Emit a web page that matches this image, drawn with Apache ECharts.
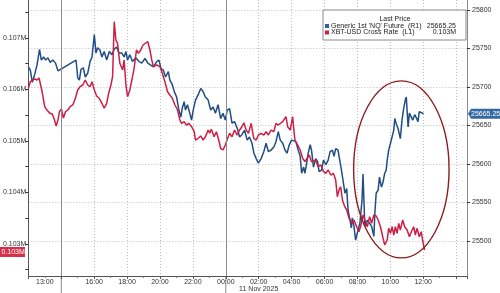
<!DOCTYPE html>
<html><head><meta charset="utf-8">
<script src="https://cdn.jsdelivr.net/npm/echarts@6/dist/echarts.min.js"></script>
<style>html,body{margin:0;padding:0;background:#fff}#c{width:500px;height:293px}</style>
</head><body><div id="c"></div>
<script>
// x values: hours after 12:00, 10 Nov 2025
const timeLabels = [1,4,6,8,10,12,14,16,18,20,22,24];
const leftTickLabels = [103000,104000,105000,106000,107000];
const leftTickMarks = [102500,103000,103500,104000,104500,105000,105500,106000,106500,107000,107500];
const rightTicks = [25500,25550,25600,25650,25700,25750,25800];
const sessionBreaks = [2,12];
const nqName = "Generic 1st 'NQ' Future  (R1)";
const xbtName = "XBT-USD Cross Rate  (L1)";
const nqLast = 25665.25;
const xbtLast = 103000;

const nqData = [[0.00,25726],[0.12,25722],[0.24,25706],[0.38,25716],[0.53,25729],[0.68,25749],[0.79,25735],[0.93,25739],[1.05,25735],[1.19,25738],[1.33,25732],[1.49,25735],[1.65,25731],[1.80,25721],
[2.90,25735],[3.00,25712],[3.10,25709],[3.20,25723],[3.34,25725],[3.46,25713],[3.61,25718],[3.75,25733],[3.87,25739],[4.01,25768],[4.11,25744],[4.21,25751],[4.35,25748],[4.47,25739],[4.61,25746],[4.76,25735],[4.92,25746],[5.08,25742],[5.22,25749],[5.36,25752],[5.52,25744],[5.68,25744],[5.82,25739],[5.93,25746],[6.03,25735],[6.17,25742],[6.33,25733],[6.53,25738],[6.73,25733],[6.89,25731],[7.09,25737],[7.26,25731],[7.39,25729],[7.60,25726],[7.80,25733],[7.94,25735],[8.06,25724],[8.20,25722],[8.34,25713],[8.51,25720],[8.60,25709],[8.75,25703],[8.87,25694],[9.01,25687],[9.15,25670],[9.27,25661],[9.35,25672],[9.47,25681],[9.55,25670],[9.67,25677],[9.81,25666],[9.92,25657],[10.02,25670],[10.16,25683],[10.32,25690],[10.48,25698],[10.62,25694],[10.76,25687],[10.93,25683],[11.08,25670],[11.23,25674],[11.37,25666],[11.53,25677],[11.69,25659],[11.83,25666],[11.97,25657],[12.09,25670],[12.23,25672],[12.38,25653],[12.53,25655],[12.70,25646],[12.84,25635],[12.98,25638],[13.14,25644],[13.30,25631],[13.44,25635],[13.59,25627],[13.71,25614],[13.85,25607],[13.98,25601],[14.15,25607],[14.31,25616],[14.45,25627],[14.59,25616],[14.75,25618],[14.92,25622],[15.05,25629],[15.19,25642],[15.31,25631],[15.46,25627],[15.60,25618],[15.72,25614],[15.86,25625],[16.00,25631],[16.12,25633],[16.26,25629],[16.40,25618],[16.52,25610],[16.61,25588],[16.73,25596],[16.81,25588],[16.93,25603],[17.01,25614],[17.13,25625],[17.21,25618],[17.33,25596],[17.47,25607],[17.58,25603],[17.67,25590],[17.82,25592],[17.94,25605],[18.08,25599],[18.22,25605],[18.34,25616],[18.48,25618],[18.58,25610],[18.68,25620],[18.82,25618],[18.94,25620],[19.03,25592],[19.15,25575],[19.24,25562],[19.35,25568],[19.43,25540],[19.55,25527],[19.63,25517],[19.69,25530],[19.79,25519],[19.89,25501],[19.99,25510],[20.15,25523],[20.28,25553],[20.34,25587],[20.45,25519],[20.60,25527],[20.74,25523],[20.86,25519],[21.00,25506],[21.06,25536],[21.14,25562],[21.26,25566],[21.34,25583],[21.46,25570],[21.54,25575],[21.66,25588],[21.75,25592],[21.81,25605],[21.90,25618],[22.01,25627],[22.11,25629],[22.21,25644],[22.27,25659],[22.35,25653],[22.47,25646],[22.61,25633],[22.71,25657],[22.81,25672],[22.91,25683],[22.97,25687],[23.08,25648],[23.16,25666],[23.28,25664],[23.36,25657],[23.48,25664],[23.56,25661],[23.68,25655],[23.76,25668],[23.88,25670],[24.02,25665.25]];

const xbtData = [[0.00,106023],[0.12,106151],[0.24,106171],[0.38,106204],[0.53,106184],[0.65,106223],[0.79,106029],[0.89,105860],[0.99,105666],[1.13,105602],[1.29,105543],[1.45,105524],[1.59,105408],[1.69,105291],[1.80,105408],[1.89,105569],[2.01,105621],[2.13,105446],[2.26,105569],[2.40,105602],[2.54,105666],[2.70,105699],[2.86,105829],[3.00,105990],[3.14,106054],[3.31,106087],[3.46,106184],[3.61,106087],[3.75,106054],[3.87,106151],[4.01,105990],[4.15,105874],[4.31,105829],[4.47,105732],[4.61,105635],[4.76,105732],[4.88,105926],[5.02,106087],[5.12,106248],[5.22,107317],[5.32,106961],[5.42,106897],[5.56,106509],[5.73,106379],[5.82,106573],[5.93,106087],[6.03,105860],[6.17,105990],[6.29,106184],[6.43,106412],[6.57,106767],[6.69,106703],[6.83,106767],[6.97,106864],[7.09,106897],[7.26,106928],[7.39,106767],[7.50,106573],[7.60,106443],[7.80,106476],[8.00,106443],[8.14,106314],[8.30,106151],[8.46,105957],[8.60,105893],[8.75,105829],[8.91,105699],[9.07,105602],[9.21,105408],[9.31,105343],[9.47,105375],[9.61,105310],[9.75,105343],[9.92,105277],[10.08,105180],[10.16,105019],[10.32,105052],[10.48,105097],[10.62,105019],[10.76,105083],[10.93,105213],[11.02,105149],[11.12,105227],[11.29,105083],[11.43,105180],[11.57,105019],[11.69,104858],[11.83,104825],[11.97,104922],[12.09,105033],[12.23,105149],[12.38,105083],[12.53,105213],[12.70,105116],[12.84,105213],[12.98,105277],[13.10,105355],[13.24,105213],[13.38,105149],[13.54,105343],[13.70,105052],[13.85,105019],[13.98,105116],[14.15,105149],[14.31,105116],[14.45,105180],[14.59,105116],[14.75,105213],[14.92,105180],[15.05,105343],[15.19,105310],[15.31,105277],[15.46,105375],[15.56,105343],[15.66,105472],[15.76,105277],[15.92,105213],[16.06,105472],[16.20,105019],[16.37,104922],[16.52,104825],[16.67,104664],[16.81,104598],[16.93,104631],[17.07,104728],[17.21,104598],[17.33,104567],[17.47,104631],[17.61,104501],[17.78,104534],[17.94,104404],[18.08,104372],[18.22,104437],[18.38,104339],[18.54,104372],[18.68,104242],[18.78,103918],[18.88,104048],[18.98,104112],[19.09,103854],[19.23,103724],[19.35,103660],[19.49,103499],[19.59,103530],[19.69,103401],[19.79,103466],[19.95,103335],[20.09,103238],[20.19,103335],[20.34,103563],[20.45,103466],[20.60,103335],[20.74,103530],[20.86,103401],[21.00,103563],[21.14,103543],[21.26,103466],[21.40,103335],[21.54,103141],[21.66,102980],[21.81,103077],[21.90,103304],[22.01,103207],[22.11,103335],[22.21,103174],[22.31,103335],[22.41,103207],[22.51,103401],[22.61,103271],[22.75,103466],[22.87,103335],[23.02,103271],[23.16,103141],[23.28,103238],[23.42,103335],[23.52,103174],[23.62,103304],[23.76,103141],[23.88,103238],[23.96,103077],[24.08,102883]];

// annotation ellipse bounds in data space: [hour, NQ value]
const ellipseLeft = 19.77, ellipseRight = 25.57, ellipseTop = 25708, ellipseBottom = 25478;

const FONT = '"Liberation Sans", Arial, sans-serif';
const BLUE = '#1f4e85', RED = '#cc1f44';
const fmtHour = h => String((12 + h) % 24).padStart(2, '0') + ':00';
const fmtM = v => (v / 1e6).toFixed(3) + 'M';

const chart = echarts.init(document.getElementById('c'), null, {renderer: 'canvas'});
chart.setOption({
  animation: false,
  backgroundColor: '#fff',
  grid: {left: 26, right: 33, top: 0, bottom: 17, containLabel: false},
  xAxis: {
    type: 'value', min: 0, max: 26.66, interval: 2,
    axisLine: {show: true, lineStyle: {color: '#555', width: 1}},
    axisTick: {show: true, length: 3, lineStyle: {color: '#555'}},
    minorTick: {show: true, splitNumber: 2, length: 2, lineStyle: {color: '#777'}},
    axisLabel: {customValues: timeLabels, formatter: fmtHour, fontSize: 7, color: '#333', margin: 3, fontFamily: FONT},
    splitLine: {show: true, lineStyle: {color: '#bdbdbd', type: [1, 2], width: 1}}
  },
  yAxis: [{
    type: 'value', position: 'left', min: 102378, max: 107738,
    axisLine: {show: true, lineStyle: {color: '#555'}},
    axisTick: {show: true, customValues: leftTickMarks, length: 3, lineStyle: {color: '#333'}},
    axisLabel: {customValues: leftTickLabels, formatter: fmtM, fontSize: 7, color: '#333', margin: 2, fontFamily: FONT},
    splitLine: {show: false}
  }, {
    type: 'value', position: 'right', min: 25454.5, max: 25813,
    axisLine: {show: true, lineStyle: {color: '#7f9099'}},
    axisTick: {show: true, customValues: rightTicks, length: 3, lineStyle: {color: '#333'}},
    axisLabel: {customValues: rightTicks, formatter: v => String(v), fontSize: 7, color: '#333', margin: 5, fontFamily: FONT},
    splitLine: {show: true, lineStyle: {color: '#bdbdbd', type: [1, 2], width: 1}}
  }],
  series: [{
    name: nqName, type: 'line', yAxisIndex: 1, data: nqData, showSymbol: false,
    lineStyle: {color: BLUE, width: 1.5}, itemStyle: {color: BLUE}, z: 3,
    markLine: {
      silent: true, symbol: 'none', label: {show: false},
      lineStyle: {color: '#8a8a8a', type: 'solid', width: 1},
      data: sessionBreaks.map(h => ({xAxis: h}))
    }
  }, {
    name: xbtName, type: 'line', yAxisIndex: 0, data: xbtData, showSymbol: false,
    lineStyle: {color: RED, width: 1.5}, itemStyle: {color: RED}, z: 4
  }]
});

function draw() {
  const px = h => chart.convertToPixel({xAxisIndex: 0}, h);
  const pyR = v => chart.convertToPixel({yAxisIndex: 1}, v);
  const pyL = v => chart.convertToPixel({yAxisIndex: 0}, v);
  const bottomY = pyR(25454.5);
  const g = [];
  sessionBreaks.forEach(h => {
    g.push({type: 'line', shape: {x1: px(h), y1: bottomY, x2: px(h), y2: 293}, style: {stroke: '#8a8a8a', lineWidth: 1}, silent: true});
  });
  g.push({type: 'text', x: px(14), y: 289, style: {text: '11 Nov 2025', font: '7px ' + FONT, fill: '#333', align: 'center', verticalAlign: 'middle'}});
  // ellipse annotation
  const x1 = px(ellipseLeft), x2 = px(ellipseRight), y1 = pyR(ellipseTop), y2 = pyR(ellipseBottom);
  g.push({type: 'ellipse', shape: {cx: (x1 + x2) / 2, cy: (y1 + y2) / 2, rx: (x2 - x1) / 2, ry: (y2 - y1) / 2},
    style: {fill: 'none', stroke: '#8e1b1f', lineWidth: 1.4}, z: 10});
  // last price tags
  const by = pyR(nqLast);
  const ax = 467;
  g.push({type: 'polygon', shape: {points: [[ax + 1, by], [ax + 4, by - 5], [500, by - 5], [500, by + 5], [ax + 4, by + 5]]}, style: {fill: '#3569a3'}, z: 20});
  g.push({type: 'text', x: ax + 4, y: by, style: {text: nqLast.toFixed(2), font: '7px ' + FONT, fill: '#fff', verticalAlign: 'middle'}, z: 21});
  const ry = pyL(xbtData[xbtData.length - 1][1]) + 2;
  g.push({type: 'rect', shape: {x: 0, y: ry - 5, width: 25, height: 10}, style: {fill: '#d8304a'}, z: 20});
  g.push({type: 'text', x: 1.5, y: ry, style: {text: fmtM(xbtLast), font: '7px ' + FONT, fill: '#fff', verticalAlign: 'middle'}, z: 21});
  // legend box
  const lx = 323, ly = 10, lw = 143, lh = 30;
  g.push({type: 'rect', shape: {x: lx, y: ly, width: lw, height: lh}, style: {fill: '#fff', stroke: '#8a8a8a', lineWidth: 1}, z: 30});
  g.push({type: 'text', x: lx + 72, y: ly + 9, style: {text: 'Last Price', font: '7px ' + FONT, fill: '#222', align: 'center', verticalAlign: 'middle'}, z: 31});
  [[nqName, nqLast.toFixed(2), '#2a64a8', 16], [xbtName, fmtM(xbtLast), RED, 22.5]].forEach(r => {
    g.push({type: 'rect', shape: {x: lx + 2, y: ly + r[3] - 2, width: 4, height: 4}, style: {fill: r[2]}, z: 31});
    g.push({type: 'text', x: lx + 8, y: ly + r[3], style: {text: r[0], font: '7px ' + FONT, fill: '#222', verticalAlign: 'middle'}, z: 31});
    g.push({type: 'text', x: lx + 133, y: ly + r[3], style: {text: r[1], font: '7px ' + FONT, fill: '#222', align: 'right', verticalAlign: 'middle'}, z: 31});
  });
  chart.setOption({graphic: {elements: g}});
}
draw();
</script>
</body></html>
